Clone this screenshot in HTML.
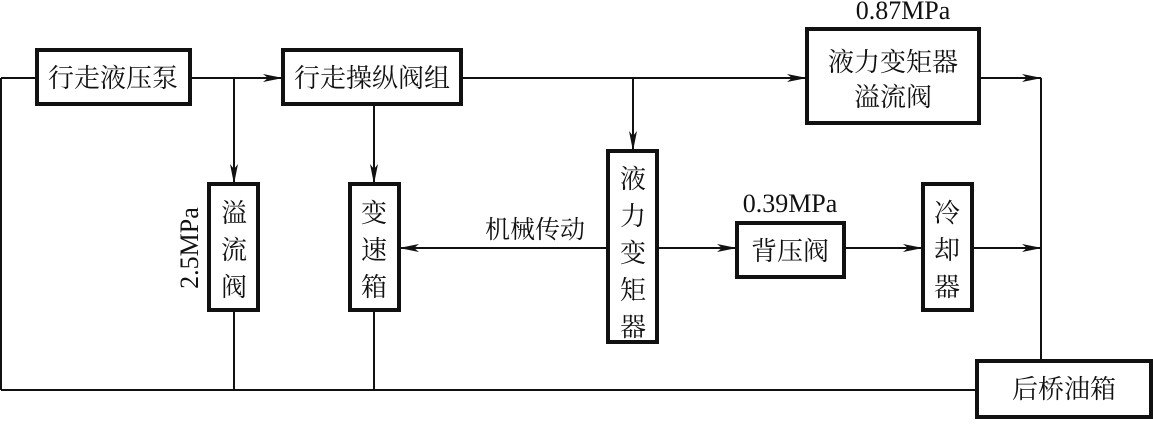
<!DOCTYPE html>
<html><head><meta charset="utf-8"><style>
body{margin:0;background:#fff}
svg text{font-family:"Liberation Serif","Noto Serif CJK SC","Noto Sans CJK SC",serif;fill:#111}
</style></head><body>
<svg width="1153" height="419" viewBox="0 0 1153 419" xmlns="http://www.w3.org/2000/svg">
<defs><marker id="a" markerWidth="20" markerHeight="10" refX="19" refY="5" orient="auto" markerUnits="userSpaceOnUse"><path d="M0,1 L20,5 L0,9 L5,5 Z" fill="#111"/></marker></defs>
<g stroke="#111" stroke-width="2" fill="none">
<line x1="36" y1="78" x2="1" y2="78"/>
<line x1="1" y1="78" x2="1" y2="390"/>
<line x1="1" y1="390" x2="1010" y2="390"/>
<line x1="191" y1="78" x2="282" y2="78" marker-end="url(#a)"/>
<line x1="234" y1="78" x2="234" y2="183" marker-end="url(#a)"/>
<line x1="374" y1="105" x2="374" y2="183" marker-end="url(#a)"/>
<line x1="462" y1="78" x2="806" y2="78" marker-end="url(#a)"/>
<line x1="633" y1="78" x2="633" y2="150" marker-end="url(#a)"/>
<line x1="980" y1="78" x2="1041" y2="78" marker-end="url(#a)"/>
<line x1="1041" y1="78" x2="1041" y2="360"/>
<line x1="607" y1="248" x2="400" y2="248" marker-end="url(#a)"/>
<line x1="658" y1="248" x2="736" y2="248" marker-end="url(#a)"/>
<line x1="845" y1="248" x2="922" y2="248" marker-end="url(#a)"/>
<line x1="973" y1="248" x2="1041" y2="248" marker-end="url(#a)"/>
<line x1="234" y1="311" x2="234" y2="390"/>
<line x1="374" y1="311" x2="374" y2="390"/>
</g>
<g stroke="#111" stroke-width="4" fill="#fff">
<rect x="37" y="50" width="153" height="54"/>
<rect x="283" y="50" width="178" height="54"/>
<rect x="209" y="184" width="49" height="126"/>
<rect x="350" y="184" width="49" height="126"/>
<rect x="807" y="29" width="172" height="94"/>
<rect x="608" y="151" width="49" height="191"/>
<rect x="737" y="223" width="107" height="54"/>
<rect x="923" y="184" width="49" height="126"/>
<rect x="977" y="361" width="174" height="56"/>
</g>
<g font-size="26" text-anchor="middle">
<text x="113" y="87">行走液压泵</text>
<text x="372" y="87">行走操纵阀组</text>
<text x="234" y="222">溢</text><text x="234" y="259">流</text><text x="234" y="296">阀</text>
<text x="374" y="222">变</text><text x="374" y="259">速</text><text x="374" y="296">箱</text>
<text x="893" y="71">液力变矩器</text>
<text x="893" y="106">溢流阀</text>
<text x="633" y="188">液</text><text x="633" y="225">力</text><text x="633" y="262">变</text><text x="633" y="299">矩</text><text x="633" y="336">器</text>
<text x="790" y="260">背压阀</text>
<text x="947" y="222">冷</text><text x="947" y="259">却</text><text x="947" y="296">器</text>
<text x="1064" y="398">后桥油箱</text>
<text x="535" y="238" font-size="25">机械传动</text>
<text x="790" y="212" font-size="26">0.39MPa</text>
<text x="903" y="19" font-size="26">0.87MPa</text>
<text x="0" y="0" font-size="26" transform="translate(198,248) rotate(-90)">2.5MPa</text>
</g>
</svg>
</body></html>
